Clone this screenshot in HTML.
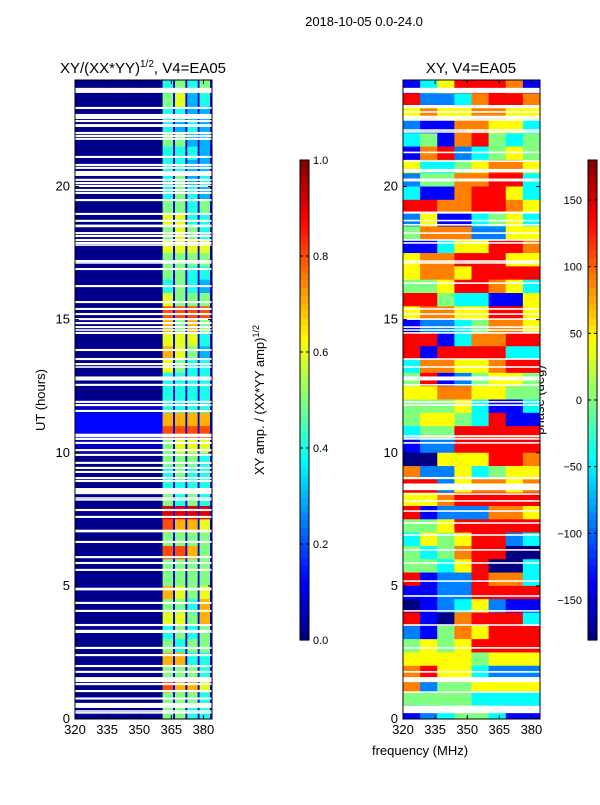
<!DOCTYPE html>
<html><head><meta charset="utf-8"><style>
body{margin:0;background:#fff;width:600px;height:800px;overflow:hidden}
svg{font-family:"Liberation Sans",sans-serif;}
</style></head><body>
<svg id="fig" width="600" height="800" xmlns="http://www.w3.org/2000/svg">
<text x="364" y="26" font-size="13" text-anchor="middle">2018-10-05 0.0-24.0</text>
<text x="143" y="73" font-size="15" text-anchor="middle">XY/(XX*YY)<tspan font-size="10" dy="-6">1/2</tspan><tspan dy="6">, V4=EA05</tspan></text>
<text x="471" y="73" font-size="15" text-anchor="middle">XY, V4=EA05</text>
<text x="420" y="755" font-size="13" text-anchor="middle">frequency (MHz)</text>
<text x="45" y="400" font-size="13" text-anchor="middle" transform="rotate(-90 45 400)">UT (hours)</text>
<text x="264" y="400" font-size="13" text-anchor="middle" transform="rotate(-90 264 400)">XY amp. / (XX*YY amp)<tspan font-size="9" dy="-5">1/2</tspan></text>
<text x="544" y="400" font-size="13" text-anchor="middle" transform="rotate(-90 544 400)">phase (deg)</text>
<g id="lp"></g><g id="rp"></g><g id="cb1"></g><g id="cb2"></g>
</svg>
<script>
// ---- data ----
const freqMin = 320, freqMax = 384, hourMin = 0, hourMax = 24;
const xTicks = [320, 335, 350, 365, 380];
const yTicks = [0, 5, 10, 15, 20];
const ampTicks = [0.0, 0.2, 0.4, 0.6, 0.8, 1.0];
const phaseTicks = [-150, -100, -50, 0, 50, 100, 150];
const bandStart = 361; // MHz where bright sub-bands start
// amplitude per half-hour row (top=24h -> bottom=0h), 4 sub-bands, digit = tenths
const ampRows = ["4545","5634","4433","4343","5533","4443","4433","4534","4543","5545","6644","5654","6666","5555","5544","4543",
"6555","8888","7575","6664","7653","6544","4444","4444","4444","7777","8888","5666","5554","4544","4444","5454",
"9999","8776","5555","8875","5555","5555","7656","5547","6657","4545","5455","7744","5554","8776","5554","5544"];
// background amplitude level (digit * 0.06)
const ampBase = ["0","0","0","0","0","0","0","0","0","0","0","0","0","0","0","0","0","0","0","0","0","0","0","0","1","2","2","1","0","0","0","0",
"0","0","0","0","0","0","0","0","0","0","0","0","0","0","0","0"];
// phase per half-hour row, 8 freq bins; digit d -> -180 + 45*d
const phaseRows = ["13577761","72236776","56556655","21166553","34167434","16723454","53345665","24466773","31167753","77667765","25113453","46662255","11355776","56677755","56657777","44577653",
"77433115","56655775","12234665","77136677","71777733","36655677","47124554","55665544","44453113","45543711","34477777","12277777","00555776","62253455","77256656","55677777",
"71222665","44577777","35457723","43467700","44357003","71227663","11227777","01235211","71067773","21465777","45457777","55554555","67553222","62445555","44443333","12344311"];
// flagged (blank) times: [center hour, duration hours]
const ampFlags = [[23.61,.19],[22.95,.08],[22.63,.19],[22.46,.08],[22.29,.11],[22.01,.08],[21.90,.08],[21.79,.08],[21.11,.08],[20.81,.08],[20.70,.08],[20.49,.19],[20.25,.08],[20.13,.08],[20.02,.08],[19.87,.08],[19.76,.08],[19.49,.08],[18.97,.08],[18.71,.08],[18.52,.1],[18.25,.08],[18.14,.08],[17.99,.08],[17.88,.08],[17.80,.06],[17.20,.08],[17.13,.06],[16.90,.08],[16.26,.08],[15.66,.08],[15.40,.08],[15.21,.08],[15.02,.08],[14.87,.08],[14.72,.08],[14.61,.06],[14.50,.08],[13.86,.08],[13.52,.08],[13.33,.08],[13.22,.06],[12.79,.15],[12.55,.08],[11.91,.08],[11.79,.08],[11.57,.08],[10.65,.13],[10.52,.08],[10.37,.08],[10.10,.08],[9.92,.08],[9.62,.08],[9.43,.08],[9.28,.08],[9.05,.08],[8.94,.08],[8.56,.23],[8.30,.06],[8.23,.06],[7.85,.08],[7.59,.08],[7.06,.1],[6.65,.08],[6.08,.08],[5.86,.08],[5.60,.08],[4.88,.1],[4.36,.08],[4.06,.08],[3.53,.08],[3.29,.12],[2.67,.08],[2.40,.08],[1.99,.08],[1.77,.08],[1.48,.19],[1.31,.08],[1.05,.08],[0.77,.08],[0.51,.19],[0.30,.06],[0.23,.06]];
const phaseFlags = [[23.61,.19],[23.00,.12],[22.80,.06],[22.60,.12],[22.50,.06],[22.12,.06],[22.05,.06],[21.28,.06],[20.95,.06],[20.60,.12],[20.27,.06],[20.22,.06],[19.02,.08],[18.72,.06],[18.56,.06],[18.25,.06],[17.99,.06],[17.88,.06],[17.20,.06],[17.13,.06],[16.37,.06],[15.40,.06],[15.21,.06],[15.02,.06],[14.72,.06],[14.61,.06],[14.50,.06],[13.52,.06],[13.22,.06],[12.79,.15],[12.55,.06],[11.91,.06],[11.79,.06],[10.62,.08],[10.52,.06],[10.37,.06],[9.05,.08],[8.72,.25],[8.45,.06],[8.19,.06],[7.81,.06],[7.36,.06],[6.91,.06],[6.35,.06],[5.86,.06],[5.18,.06],[4.62,.06],[4.06,.06],[3.53,.06],[2.67,.06],[1.77,.06],[1.48,.19],[1.01,.06],[0.36,.28]];

// ---- helpers ----
const NS = "http://www.w3.org/2000/svg";
function jet(v){v=Math.max(0,Math.min(1,v));
  const r=Math.max(0,Math.min(1,1.5-Math.abs(4*v-3))),g=Math.max(0,Math.min(1,1.5-Math.abs(4*v-2))),b=Math.max(0,Math.min(1,1.5-Math.abs(4*v-1)));
  return `rgb(${Math.round(r*255)},${Math.round(g*255)},${Math.round(b*255)})`;}
function mk(parent,tag,attrs){const e=document.createElementNS(NS,tag);for(const k in attrs)e.setAttribute(k,attrs[k]);parent.appendChild(e);return e;}
const T=80,B=719;
function yScale(h){return B-(h-hourMin)/(hourMax-hourMin)*(B-T);}
function mkX(L,R){return f=>L+(f-freqMin)/(freqMax-freqMin)*(R-L);}

function axes(g,L,R,name){
  const xs=mkX(L,R);
  for(const t of xTicks){const x=xs(t);
    const tk=mk(g,'line',{x1:x,x2:x,y1:B,y2:B-4,stroke:'#000'});
    
    
    mk(g,'line',{x1:x,x2:x,y1:T,y2:T+4,stroke:'#000'});
    const lb=mk(g,'text',{x:x,y:B+15,'font-size':13,'text-anchor':'middle'});lb.textContent=t;
    
    }
  for(const t of yTicks){const y=yScale(t);
    mk(g,'line',{x1:L,x2:L+4,y1:y,y2:y,stroke:'#000'});
    mk(g,'line',{x1:R,x2:R-4,y1:y,y2:y,stroke:'#000'});
    const lb=mk(g,'text',{x:L-5,y:y+4,'font-size':13,'text-anchor':'end'});lb.textContent=t;
    
    }
  const fr=mk(g,'rect',{x:L,y:T,width:R-L,height:B-T,fill:'none',stroke:'#000'});
  
  
}
function flags(g,L,R,list){for(const [c,d] of list){const y1=yScale(c+d/2),y2=yScale(c-d/2);
  const r=mk(g,'rect',{x:L,y:y1,width:R-L,height:Math.max(1.5,y2-y1),fill:'#fff'});
  
  }}

// ---- left panel ----
(function(){const g=document.getElementById('lp');
  const L=75,R=212,xs=mkX(L,R),n=ampRows.length,dh=(hourMax-hourMin)/n,bw=(freqMax-bandStart)/4;
  ampRows.forEach((row,i)=>{const hTop=hourMax-i*dh,y1=yScale(hTop),y2=yScale(hTop-dh);
    const bg=mk(g,'rect',{x:L,y:y1,width:xs(bandStart)-L,height:y2-y1+0.5,fill:jet(0.01+(+ampBase[i])*0.06)});
    
    
    for(let j=0;j<4;j++){const f0=bandStart+j*bw,x0=xs(f0),x1=xs(f0+bw);
      const c=mk(g,'rect',{x:x0,y:y1,width:x1-x0,height:y2-y1+0.5,fill:jet(+row[j]/10)});
      
      
      mk(g,'rect',{x:x1-2,y:y1,width:2,height:y2-y1+0.5,fill:jet(0.1)});}
  });
  flags(g,L,R,ampFlags);axes(g,L,R,'left-axes');})();

// ---- right panel ----
(function(){const g=document.getElementById('rp');
  const L=403,R=540,xs=mkX(L,R),n=phaseRows.length,dh=(hourMax-hourMin)/n;
  phaseRows.forEach((row,i)=>{const hTop=hourMax-i*dh,y1=yScale(hTop),y2=yScale(hTop-dh),m=row.length,bw=(freqMax-freqMin)/m;
    for(let j=0;j<m;j++){const ph=-180+45*(+row[j]),x0=xs(freqMin+j*bw),x1=xs(freqMin+(j+1)*bw);
      const c=mk(g,'rect',{x:x0,y:y1,width:x1-x0+0.5,height:y2-y1+0.5,fill:jet((ph+180)/360)});
      
      }});
  flags(g,L,R,phaseFlags);axes(g,L,R,'right-axes');})();

// ---- colorbars ----
function colorbar(id,L,vmin,vmax,ticks,fmt,name,labelLeft){const g=document.getElementById(id);
  
  const Tc=160,Bc=640,W=9,N=64;
  for(let k=0;k<N;k++){const y=Bc-(k+1)*(Bc-Tc)/N;mk(g,'rect',{x:L,y:y,width:W,height:(Bc-Tc)/N+0.6,fill:jet((k+0.5)/N)});}
  mk(g,'rect',{x:L,y:Tc,width:W,height:Bc-Tc,fill:'none',stroke:'#000'});
  for(const t of ticks){const y=Bc-(t-vmin)/(vmax-vmin)*(Bc-Tc);
    mk(g,'line',{x1:L+W,x2:L+W-3,y1:y,y2:y,stroke:'#000'});mk(g,'line',{x1:L,x2:L+3,y1:y,y2:y,stroke:'#000'});
    const lb=labelLeft?mk(g,'text',{x:L-6,y:y+4,'font-size':11,'text-anchor':'end'}):mk(g,'text',{x:L+W+4,y:y+4,'font-size':11});
    lb.textContent=fmt(t);
    
    }}
colorbar('cb1',300,0,1,ampTicks,t=>t.toFixed(1),'amplitude-colorbar',false);
colorbar('cb2',588,-180,180,phaseTicks,t=>t<0?'\u2212'+(-t):''+t,'phase-colorbar',true);
</script>
</body></html>
